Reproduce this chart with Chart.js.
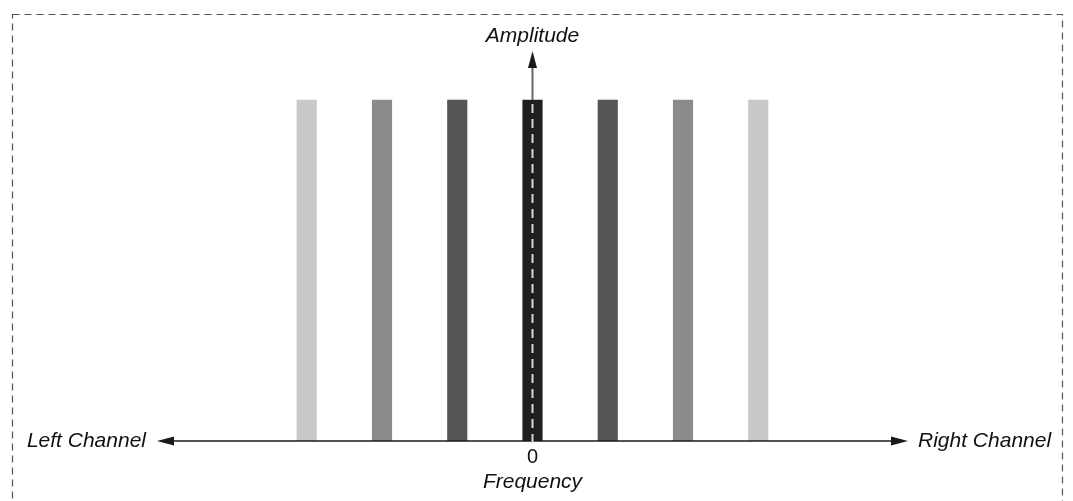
<!DOCTYPE html>
<html>
<head>
<meta charset="utf-8">
<script src="https://cdn.jsdelivr.net/npm/chart.js@4/dist/chart.umd.min.js"></script>
<style>
  html, body { margin: 0; padding: 0; background: #fff; }
  #wrap { width: 1073px; height: 501px; position: relative; }
</style>
</head>
<body>
<div id="wrap"><canvas id="chartSpectrum"></canvas></div>
<script>
// frequency positions (left channel negative, right channel positive)
const frequencies = [-3, -2, -1, 0, 1, 2, 3];
const amplitudes = [1, 1, 1, 1, 1, 1, 1];
const barColors = ['#c8c8c7', '#8b8b8a', '#555554', '#1f1f1d', '#555554', '#8b8b8a', '#c8c8c7'];

const axisLabels = {
  up: 'Amplitude',
  left: 'Left Channel',
  right: 'Right Channel',
  zero: '0',
  down: 'Frequency'
};

// how far the drawn axes reach, in data units
const axisExtentX = 4.99;
const axisExtentY = 1.144;

const FONT = 'italic 21px "Liberation Sans", Arial, sans-serif';

function arrowHead(ctx, x, y, dir) {
  // dir: 'left' | 'right' | 'up'
  const len = 17, half = 4.5;
  ctx.beginPath();
  if (dir === 'left') {
    ctx.moveTo(x, y); ctx.lineTo(x + len, y - half); ctx.lineTo(x + len, y + half);
  } else if (dir === 'right') {
    ctx.moveTo(x, y); ctx.lineTo(x - len, y - half); ctx.lineTo(x - len, y + half);
  } else {
    ctx.moveTo(x, y); ctx.lineTo(x - half, y + len); ctx.lineTo(x + half, y + len);
  }
  ctx.closePath();
  ctx.fill();
}

const axesPlugin = {
  id: 'axesPlugin',
  beforeDraw(chart) {
    const ctx = chart.ctx;
    // dashed frame
    ctx.save();
    ctx.strokeStyle = '#555';
    ctx.lineWidth = 1.2;
    ctx.setLineDash([7, 5]);
    ctx.strokeRect(12.5, 14.5, 1050, 500);
    ctx.restore();
  },
  afterDatasetsDraw(chart) {
    const ctx = chart.ctx;
    const xs = chart.scales.x, ys = chart.scales.y;
    const x0 = xs.getPixelForValue(0);
    const y0 = ys.getPixelForValue(0);
    const xl = xs.getPixelForValue(-axisExtentX);
    const xr = xs.getPixelForValue(axisExtentX);
    const yt = ys.getPixelForValue(axisExtentY);

    ctx.save();
    // horizontal axis
    ctx.strokeStyle = '#1a1a1a';
    ctx.fillStyle = '#1a1a1a';
    ctx.lineWidth = 1.5;
    ctx.beginPath();
    ctx.moveTo(xl + 10, y0);
    ctx.lineTo(xr - 10, y0);
    ctx.stroke();
    arrowHead(ctx, xl, y0, 'left');
    arrowHead(ctx, xr, y0, 'right');

    // vertical axis above the centre bar
    const topBar = ys.getPixelForValue(amplitudes[3]);
    ctx.strokeStyle = '#666';
    ctx.lineWidth = 2;
    ctx.beginPath();
    ctx.moveTo(x0, topBar);
    ctx.lineTo(x0, yt + 10);
    ctx.stroke();
    ctx.fillStyle = '#1a1a1a';
    arrowHead(ctx, x0, yt, 'up');

    // dashed line through the centre bar
    ctx.strokeStyle = '#d8d8d8';
    ctx.lineWidth = 2;
    ctx.setLineDash([9, 6]);
    ctx.lineDashOffset = -4;
    ctx.beginPath();
    ctx.moveTo(x0, topBar);
    ctx.lineTo(x0, y0 + 8);
    ctx.stroke();
    ctx.setLineDash([]);

    // texts
    ctx.font = FONT;
    ctx.fillStyle = '#111';
    ctx.textBaseline = 'middle';
    ctx.textAlign = 'center';
    ctx.fillText(axisLabels.up, x0, yt - 15);
    ctx.font = '20px "Liberation Sans", Arial, sans-serif';
    ctx.fillText(axisLabels.zero, x0, y0 + 16);
    ctx.font = FONT;
    ctx.fillText(axisLabels.down, x0, y0 + 41);
    ctx.textAlign = 'right';
    ctx.fillText(axisLabels.left, xl - 11, y0);
    ctx.textAlign = 'left';
    ctx.fillText(axisLabels.right, xr + 10, y0);
    ctx.restore();
  }
};

new Chart(document.getElementById('chartSpectrum'), {
  type: 'bar',
  data: {
    datasets: [{
      data: frequencies.map((f, i) => ({ x: f, y: amplitudes[i] })),
      backgroundColor: barColors,
      borderWidth: 0,
      barThickness: 19.5
    }]
  },
  options: {
    responsive: true,
    maintainAspectRatio: false,
    animation: false,
    layout: { padding: { left: 81, right: 89, top: 51, bottom: 60 } },
    plugins: { legend: { display: false }, tooltip: { enabled: false } },
    scales: {
      x: { type: 'linear', min: -6, max: 6, offset: false, display: false },
      y: { min: 0, max: axisExtentY, display: false }
    }
  },
  plugins: [axesPlugin]
});
</script>
</body>
</html>
